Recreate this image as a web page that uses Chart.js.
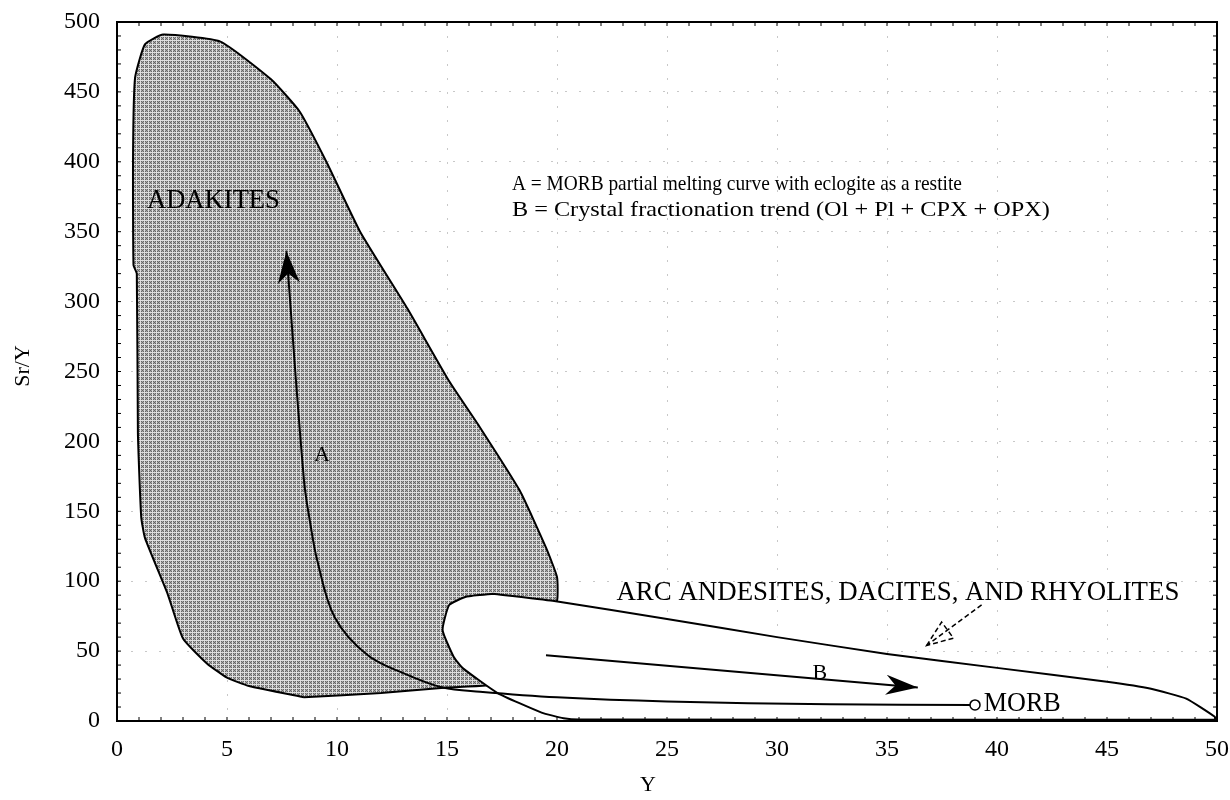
<!DOCTYPE html>
<html>
<head>
<meta charset="utf-8">
<script src="https://cdn.jsdelivr.net/npm/chart.js@4.4.1/dist/chart.umd.min.js"></script>
<style>
  html, body { margin: 0; padding: 0; background: #fff; }
  #wrap { width: 1230px; height: 800px; }
</style>
</head>
<body>
<div id="wrap"><canvas id="chart" width="1230" height="800"></canvas></div>
<script>
// axis ticks
var xTicks = [0, 5, 10, 15, 20, 25, 30, 35, 40, 45, 50];
var yTicks = [0, 50, 100, 150, 200, 250, 300, 350, 400, 450, 500];

// ADAKITES field outline (Y, Sr/Y)
var adakiteY   = [8.5, 6.0, 5.0, 4.1, 3.0, 2.3, 1.27, 1.1, 0.95, 0.9, 0.75, 0.73, 0.82, 1.27, 2.1, 4.7, 7.0, 8.3, 9.55, 11.05, 13.2, 15.1, 16.5, 18.3, 19.5, 20.0, 20.0, 19.0, 17.5, 15.0, 12.0, 8.5];
var adakiteSrY = [17, 25, 31, 41, 59, 91, 131, 146, 206, 320, 326, 407, 460, 484, 491, 486, 459, 436, 399, 350, 295, 243, 210, 165, 124, 103, 86, 50, 27, 24, 20, 17];

// ARC ANDESITES, DACITES, AND RHYOLITES field outline
var arcY   = [17.1, 19.8, 25, 30, 35, 40, 45, 47, 48.6, 49.9, 49.9, 21.0, 20.3, 19.3, 17.3, 15.7, 15.3, 14.8, 15.1, 15.9, 17.1];
var arcSrY = [91, 86, 73, 60, 48, 38, 28, 23, 16, 3, 1, 1, 2, 6, 20, 38, 46, 65, 83, 89, 91];

// trend A: MORB partial melting curve
var trendAY   = [38.9, 32.4, 25, 20, 16.5, 14.8, 13.2, 11.4, 9.9, 9.1, 8.8, 8.5, 7.7];
var trendASrY = [11.5, 12, 14, 17, 21, 24, 33, 47, 74, 115, 140, 172, 336];

// trend B: crystal fractionation
var trendBY   = [19.5, 36.4];
var trendBSrY = [47, 24];

// dashed pointer to the arc field
var pointerY   = [39.3, 36.8];
var pointerSrY = [83, 54];

// MORB point
var morbY   = [39.0];
var morbSrY = [11.5];

// text labels (Y, Sr/Y, alignment)
var labelText  = ['ADAKITES', 'A = MORB partial melting curve with eclogite as a restite',
                  'B = Crystal fractionation trend (Ol + Pl + CPX + OPX)',
                  'ARC ANDESITES, DACITES, AND RHYOLITES', 'MORB', 'B', 'A'];
var labelY     = [1.36, 17.95, 17.95, 22.7, 39.4, 31.95, 9.32];
var labelSrY   = [372, 384, 365, 91.4, 12.1, 34.3, 190];
var labelAlign = ['left', 'left', 'left', 'left', 'left', 'center', 'center'];
var labelSize  = [27, 21, 21, 27, 27, 22, 22];
var labelWide  = [133, 450, 538, 563, 77, 30, 30];

function pts(xs, ys) {
  return xs.map(function(x, i) { return {x: x, y: ys[i]}; });
}

function hatch() {
  var c = document.createElement('canvas');
  c.width = 4; c.height = 4;
  var g = c.getContext('2d');
  g.fillStyle = '#dedede';
  g.fillRect(0, 0, 4, 4);
  for (var r = 1; r < 4; r++) {
    for (var k = 1; k < 4; k++) {
      g.fillStyle = ((r + k) % 2 === 0) ? '#666666' : '#a8a8a8';
      g.fillRect(k, r, 1, 1);
    }
  }
  return g.createPattern(c, 'repeat');
}

var SERIF = '"Liberation Serif", "DejaVu Serif", serif';

function arrowHead(ctx, x0, y0, x1, y1, len, half, filled) {
  var dx = x1 - x0, dy = y1 - y0;
  var d = Math.sqrt(dx * dx + dy * dy);
  var ux = dx / d, uy = dy / d, px = -uy, py = ux;
  ctx.beginPath();
  ctx.moveTo(x1, y1);
  ctx.lineTo(x1 - ux * len + px * half, y1 - uy * len + py * half);
  if (filled) ctx.lineTo(x1 - ux * len * 0.7, y1 - uy * len * 0.7);
  ctx.lineTo(x1 - ux * len - px * half, y1 - uy * len - py * half);
  ctx.closePath();
  if (filled) ctx.fill(); else ctx.stroke();
}

// drop the label overhang padding so the plot box stays where we want it
function noPad(s) {
  s.paddingLeft = 0; s.paddingRight = 0; s.paddingTop = 0; s.paddingBottom = 0;
}

var decor = {
  id: 'decor',
  beforeDraw: function(chart) {
    var ctx = chart.ctx;
    ctx.save();
    ctx.fillStyle = '#fff';
    ctx.fillRect(0, 0, chart.width, chart.height);
    ctx.restore();
  },
  afterDatasetsDraw: function(chart) {
    var ctx = chart.ctx, xs = chart.scales.x, ys = chart.scales.y, a = chart.chartArea;
    ctx.save();
    ctx.fillStyle = '#000';
    ctx.strokeStyle = '#000';

    // arrow heads
    var n = trendAY.length;
    arrowHead(ctx, xs.getPixelForValue(trendAY[n - 2]), ys.getPixelForValue(trendASrY[n - 2]),
              xs.getPixelForValue(trendAY[n - 1]), ys.getPixelForValue(trendASrY[n - 1]), 32, 11, true);
    arrowHead(ctx, xs.getPixelForValue(trendBY[0]), ys.getPixelForValue(trendBSrY[0]),
              xs.getPixelForValue(trendBY[1]), ys.getPixelForValue(trendBSrY[1]), 32, 10, true);
    ctx.lineWidth = 1.5;
    ctx.setLineDash([5, 3]);
    arrowHead(ctx, xs.getPixelForValue(pointerY[0]), ys.getPixelForValue(pointerSrY[0]),
              xs.getPixelForValue(pointerY[1]), ys.getPixelForValue(pointerSrY[1]), 26, 10, false);
    ctx.setLineDash([]);

    // frame
    ctx.lineWidth = 2;
    ctx.strokeRect(a.left, a.top, a.right - a.left, a.bottom - a.top);

    // small inward ticks
    ctx.lineWidth = 1;
    ctx.beginPath();
    for (var v = 1; v < 50; v++) {
      var px = xs.getPixelForValue(v);
      ctx.moveTo(px, a.bottom); ctx.lineTo(px, a.bottom - 4);
      ctx.moveTo(px, a.top); ctx.lineTo(px, a.top + 4);
    }
    for (var w = 10; w < 500; w += 10) {
      var py = ys.getPixelForValue(w);
      ctx.moveTo(a.left, py); ctx.lineTo(a.left + 4, py);
      ctx.moveTo(a.right, py); ctx.lineTo(a.right - 4, py);
    }
    ctx.stroke();

    // labels, stretched a little where the original type is wider
    ctx.textBaseline = 'middle';
    for (var i = 0; i < labelText.length; i++) {
      ctx.font = labelSize[i] + 'px ' + SERIF;
      ctx.textAlign = labelAlign[i];
      var tw = ctx.measureText(labelText[i]).width;
      var sx = tw > 0 ? labelWide[i] / tw : 1;
      if (sx > 1.25 || sx < 0.8 || labelText[i].length < 2) sx = 1;
      var lx = xs.getPixelForValue(labelY[i]), ly = ys.getPixelForValue(labelSrY[i]);
      ctx.save();
      ctx.translate(lx, ly);
      ctx.scale(sx, 1);
      ctx.fillText(labelText[i], 0, 0);
      ctx.restore();
    }

    // axis titles
    ctx.font = '22px ' + SERIF;
    ctx.textAlign = 'center';
    ctx.fillText('Y', 648, 785);
    ctx.translate(23, 366);
    ctx.rotate(-Math.PI / 2);
    ctx.fillText('Sr/Y', 0, 0);
    ctx.restore();
  }
};

var blk = '#000';

new Chart(document.getElementById('chart'), {
  type: 'scatter',
  data: {
    datasets: [
      {
        data: pts(morbY, morbSrY), pointRadius: 5, pointBackgroundColor: '#fff',
        pointBorderColor: blk, pointBorderWidth: 1.5, showLine: false, order: 0
      },
      {
        data: pts(trendAY, trendASrY), showLine: true, borderColor: blk, borderWidth: 2,
        pointRadius: 0, tension: 0.35, fill: false, order: 1
      },
      {
        data: pts(trendBY, trendBSrY), showLine: true, borderColor: blk, borderWidth: 2,
        pointRadius: 0, fill: false, order: 1
      },
      {
        data: pts(pointerY, pointerSrY), showLine: true, borderColor: blk, borderWidth: 1.5,
        borderDash: [5, 3], pointRadius: 0, fill: false, order: 1
      },
      {
        data: pts(arcY, arcSrY), showLine: true, borderColor: blk, borderWidth: 2,
        backgroundColor: '#fff', pointRadius: 0, tension: 0.15, fill: 'shape', order: 4
      },
      {
        data: pts(adakiteY, adakiteSrY), showLine: true, borderColor: blk, borderWidth: 2,
        backgroundColor: hatch(), pointRadius: 0, tension: 0.15, fill: 'shape', order: 5
      }
    ]
  },
  options: {
    responsive: false,
    animation: false,
    devicePixelRatio: 1,
    layout: { padding: { top: 22, right: 13, left: 0, bottom: 0 } },
    plugins: { legend: { display: false }, tooltip: { enabled: false } },
    scales: {
      x: {
        type: 'linear', min: 0, max: 50,
        afterBuildTicks: function(s) { s.ticks = xTicks.map(function(v) { return {value: v}; }); },
        afterFit: function(s) { s.height = 79; noPad(s); },
        grid: { color: '#c8c8c8', lineWidth: 1, drawTicks: false },
        border: { display: false, dash: [2, 12] },
        ticks: { color: blk, padding: 14, maxRotation: 0, font: { family: SERIF, size: 24 } }
      },
      y: {
        type: 'linear', min: 0, max: 500,
        afterBuildTicks: function(s) { s.ticks = yTicks.map(function(v) { return {value: v}; }); },
        afterFit: function(s) { s.width = 117; noPad(s); },
        grid: { color: '#c8c8c8', lineWidth: 1, drawTicks: false },
        border: { display: false, dash: [2, 12] },
        ticks: { color: blk, padding: 17, font: { family: SERIF, size: 24 } }
      }
    }
  },
  plugins: [decor]
});
</script>
</body>
</html>
